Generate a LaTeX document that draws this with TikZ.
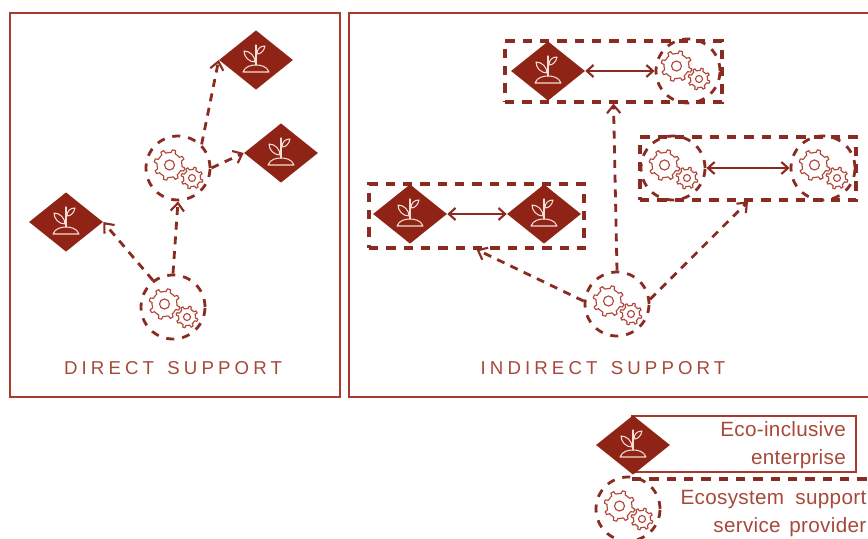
\documentclass[tikz,border=0pt]{standalone}
\usepackage{fontspec}
\setmainfont{Liberation Sans}
\usetikzlibrary{shapes.geometric,arrows.meta}
\definecolor{dkred}{HTML}{8F2316}
\definecolor{framered}{HTML}{A93A2C}
\definecolor{dashred}{HTML}{8A2B22}
\definecolor{gearred}{HTML}{B0463A}
\definecolor{txtred}{HTML}{A8483A}
\definecolor{plantw}{HTML}{F3DDD6}
\tikzset{
  px/.style={x=0.75pt,y=-0.75pt},
  framebox/.style={draw=framered,line width=2.2pt,fill=none},
  dashbox/.style={draw=dashred,line width=2.3pt,dash pattern=on 7pt off 6pt,rectangle,inner sep=0pt},
  firm/.style={diamond,fill=dkred,inner sep=0pt,minimum width=55.5pt,minimum height=44.5pt},
  provider/.style={circle,draw=dashred,line width=2.1pt,dash pattern=on 6pt off 6pt,inner sep=0pt,minimum size=48pt},
  dasharrow/.style={draw=dashred,line width=2.1pt,dash pattern=on 6pt off 5pt,-{Straight Barb[length=6pt,width=10pt,line width=1.6pt]}},
  bothway/.style={draw=dashred,line width=1.6pt,{Straight Barb[length=5pt,width=9pt]}-{Straight Barb[length=5pt,width=9pt]}},
  caption/.style={text=txtred,font=\fontsize{14}{16}\selectfont\addfontfeature{LetterSpace=22}},
  legendtxt/.style={text=txtred,anchor=east,align=right,font=\fontsize{15.5}{20.6}\selectfont\addfontfeature{LetterSpace=1.5}},
  plant/.pic={
    \begin{scope}[draw=plantw,line width=0.8pt,line cap=round,line join=round]
      \draw (0,-15) -- (0,5);
      \draw (1,-6) .. controls (5,-6) and (8,-9) .. (9,-14) .. controls (4,-14) and (1,-11) .. (1,-6);
      \draw (-1,2) .. controls (-1,-4) and (-6,-9) .. (-12,-9) .. controls (-12,-3) and (-7,2) .. (-1,2);
      \draw (-13,12) .. controls (-11,6) and (-4,5) .. (0,5) .. controls (4,5) and (11,6) .. (13,12) -- cycle;
    \end{scope}
  },
  pics/gearpair/.style={code={
    \begin{scope}[shift={(-8.5,-3)}]
      \draw[draw=gearred,line width=0.85pt,line join=round] (0:12.5)
        \foreach \t in {0,45,...,315}{
          -- (\t+7:12.5) -- (\t+11:15.5) -- (\t+23:15.5) -- (\t+27:12.5) -- (\t+45:12.5)
        } -- cycle;
      \draw[draw=gearred,line width=0.85pt] (0,0) circle (5);
    \end{scope}
    \begin{scope}[shift={(14,10)}]
      \draw[draw=gearred,line width=0.85pt,line join=round] (0:8.5)
        \foreach \t in {0,45,...,315}{
          -- (\t+7:8.5) -- (\t+11:11) -- (\t+23:11) -- (\t+27:8.5) -- (\t+45:8.5)
        } -- cycle;
      \draw[draw=gearred,line width=0.85pt] (0,0) circle (3.5);
    \end{scope}
  }}
}
\begin{document}
\begin{tikzpicture}[px]
\useasboundingbox (0,0) rectangle (868,539);
% frames
\draw[framebox] (10,13) rectangle (340,397);
\draw[framebox] (349,13) rectangle (875,397);
% legend frame
\coordinate (legA) at (632,416);
\coordinate (legB) at (856,472);
\draw[framebox] (legA) rectangle (legB);
\coordinate (legC) at (632,479);
\coordinate (legD) at (872,479);
\draw[draw=dashred,line width=2.3pt,dash pattern=on 7pt off 6pt] (legC) -- (legD);
% dashed groups
\node[dashbox,minimum width=162.75pt,minimum height=45.75pt] (g1) at (613.5,71.5) {};
\node[dashbox,minimum width=162pt,minimum height=47.25pt] (g2) at (748,168.5) {};
\node[dashbox,minimum width=161.25pt,minimum height=48pt] (g3) at (476.5,216) {};
% firms
\foreach \n/\x/\y in {a/256/60,b/281/153,c/66/222,d/548/71,e/410/214,f/544/214,l/633/445}{
  \node[firm] (\n) at (\x,\y) {};
  \pic at (\n) {plant};
}
% providers
\foreach \n/\x/\y/\gx/\gy in {p/178/168/0/0,q/173/307/0/0,r/688/71/-3/-2,s/673/168/0/0,t/823/168/0/0,u/617/304/0/0,v/628/509/0/0}{
  \node[provider] (\n) at (\x,\y) {};
  \pic at ([shift={(\gx,\gy)}]\n) {gearpair};
}
% connectors
\draw[dasharrow] (q.127) -- (c.east);
\draw[dasharrow] (q.90) -- (p.-90);
\draw[dasharrow] (p.45) -- (a.west);
\draw[dasharrow] (p.0) -- (b.west);
\draw[dasharrow] (u.90) -- (g1.south);
\draw[dasharrow] (u.175) -- (g3.south);
\draw[dasharrow] (u.8) -- (g2.south);
\draw[bothway] (d.east) -- (r.west);
\draw[bothway] (s.east) -- (t.west);
\draw[bothway] (e.east) -- (f.west);
% labels
\node[caption] (capd) at (173,368) {DIRECT\hspace{3pt} SUPPORT};
\node[caption] (capi) at (603,368) {INDIRECT\hspace{3pt} SUPPORT};
\node[legendtxt] (l1) at (850.5,445) {Eco-inclusive\\enterprise};
\node[legendtxt] (l2) at (871,513.5) {Ecosystem\hspace{4pt} support\\service\hspace{2pt} provider};
\end{tikzpicture}
\end{document}
